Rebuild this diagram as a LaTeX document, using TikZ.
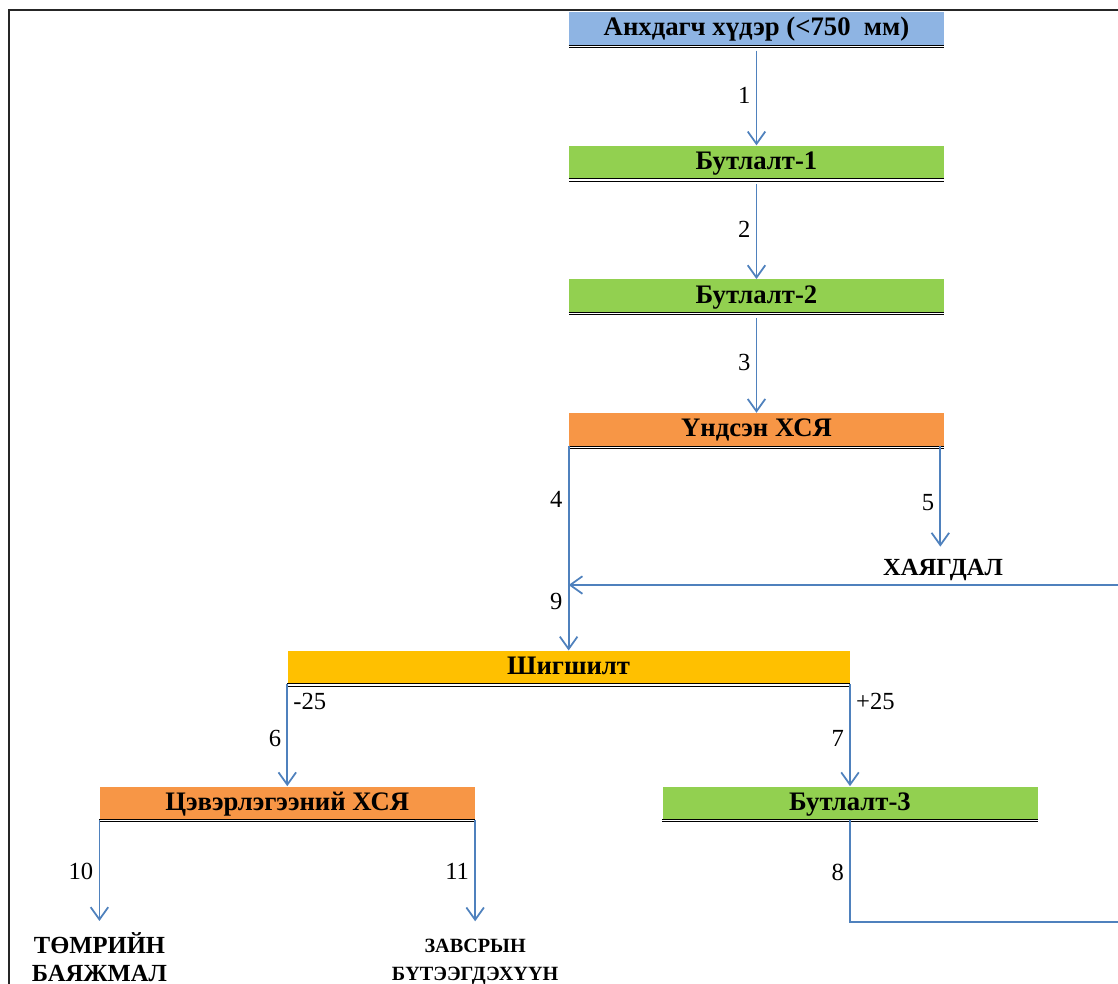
\documentclass[tikz,border=0pt]{standalone}
\usepackage{fontspec}
\setmainfont{Liberation Serif}
\usetikzlibrary{positioning,arrows.meta}

\definecolor{boxblue}{HTML}{8EB4E3}
\definecolor{boxgreen}{HTML}{92D050}
\definecolor{boxorange}{HTML}{F79646}
\definecolor{boxyellow}{HTML}{FFC000}
\definecolor{linkblue}{HTML}{4F81BD}

\begin{document}
\begin{tikzpicture}[
    node distance=2cm,
    stage/.style={rectangle, minimum width=7.5cm, minimum height=0.66cm, inner sep=0pt, text height=1.02em, text depth=0.2em, font=\fontsize{15.2}{17}\selectfont\bfseries},
    product/.style={inner sep=0pt, align=center, font=\fontsize{14}{16}\selectfont\bfseries},
    link/.style={draw=linkblue, line width=1pt},
    flow/.style={link, -{Straight Barb[length=7pt, width=10pt]}},
    num/.style={font=\fontsize{14}{16}\selectfont, inner sep=3pt}
]
\useasboundingbox (0,0) rectangle (22.36,-19.68);

% --- Frame ---
\draw[line width=0.9pt, black!85] (0.18,-19.68) |- (22.36,-0.2);

% --- Crushing line ---
\node[stage, fill=boxblue] (raw) at (15.13,-0.57) {Анхдагч хүдэр (<750~~мм)};
\node[stage, fill=boxgreen, below=of raw] (crush1) {Бутлалт-1};
\node[stage, fill=boxgreen, below=of crush1] (crush2) {Бутлалт-2};
\node[stage, fill=boxorange, below=of crush2] (mainsep) {Үндсэн ХСЯ};

% --- Screening ---
\node[stage, fill=boxyellow, minimum width=11.24cm, below=4.08cm of mainsep.south west] (screen) {Шигшилт};
\node[stage, fill=boxorange, below=2.04cm of screen.south west] (cleansep) {Цэвэрлэгээний ХСЯ};
\node[stage, fill=boxgreen, below=2.04cm of screen.south east] (crush3) {Бутлалт-3};

% --- Products ---
\node[product] (waste) at (18.86,-11.40) {ХАЯГДАЛ};
\node[product, below=2.24cm of cleansep.south west] (conc) {ТӨМРИЙН\\БАЯЖМАЛ};
\node[product, font=\fontsize{11.5}{15.9}\selectfont\bfseries, below=2.38cm of cleansep.south east] (midprod) {ЗАВСРЫН\\БҮТЭЭГДЭХҮҮН};

% double rule under each stage
\foreach \n in {raw,crush1,crush2,mainsep,screen,cleansep,crush3}
  \draw[double, double distance=0.8pt, line width=0.5pt] ([yshift=-0.5pt]\n.south west) -- ([yshift=-0.5pt]\n.south east);

% --- Flows ---
\draw[flow, shorten <=3pt] (raw) -- (crush1) node[num, midway, left] {1};
\draw[flow, shorten <=3pt] (crush1) -- (crush2) node[num, midway, left] {2};
\draw[flow, shorten <=3pt] (crush2) -- (mainsep) node[num, midway, left] {3};
\draw[flow] (mainsep.south west) -- (screen.north) node[num, pos=0.26, left] {4} node[num, pos=0.76, left] {9};
\draw[flow, shorten >=7pt] ([xshift=-0.08cm]mainsep.south east) -- ([xshift=-0.08cm]mainsep.south east |- waste.north) node[num, pos=0.5, left] {5};
\coordinate (recin) at (22.36,-11.70);
\draw[flow] (recin) -- (recin -| screen.north);
\draw[flow] (screen.south west) -- (cleansep.north) node[num, pos=0.53, left] {6} node[num, pos=0.17, right] {-25};
\draw[flow] (screen.south east) -- (crush3.north) node[num, pos=0.53, left] {7} node[num, pos=0.17, right] {+25};
\draw[flow, shorten >=6.2pt] (cleansep.south west) -- (conc.north) node[num, pos=0.46, left] {10};
\draw[flow, shorten >=10pt] (cleansep.south east) -- (midprod.north) node[num, pos=0.43, left] {11};
\coordinate (recout) at (22.36,-18.44);
\draw[link] (crush3.south) |- (recout) node[num, pos=0.255, left] {8};

\end{tikzpicture}
\end{document}
